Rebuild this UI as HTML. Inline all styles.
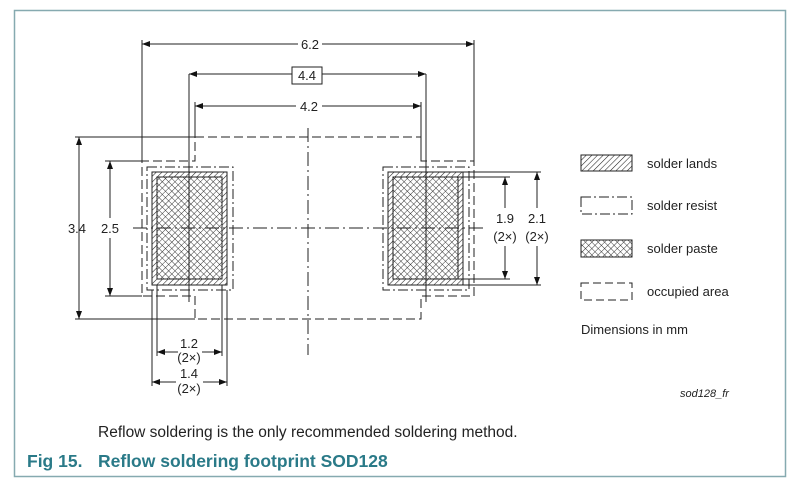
<!DOCTYPE html>
<html><head><meta charset="utf-8"><style>
html,body{margin:0;padding:0;background:#fff;}
svg{display:block;}
text{font-family:"Liberation Sans",Arial,sans-serif;fill:#222;}
</style></head><body>
<svg width="800" height="491" viewBox="0 0 800 491" xmlns="http://www.w3.org/2000/svg">
<defs>
<pattern id="hatch" patternUnits="userSpaceOnUse" width="4" height="4" patternTransform="rotate(45)">
<line x1="0" y1="0" x2="0" y2="4" stroke="#222" stroke-width="1.1"/>
</pattern>
<pattern id="cross" patternUnits="userSpaceOnUse" width="4.5" height="4.5" patternTransform="rotate(45)">
<line x1="0" y1="0" x2="0" y2="4.5" stroke="#222" stroke-width="0.9"/>
<line x1="0" y1="0" x2="4.5" y2="0" stroke="#222" stroke-width="0.9"/>
</pattern>
<marker id="a" markerWidth="8" markerHeight="6" refX="8" refY="3" orient="auto-start-reverse" markerUnits="userSpaceOnUse">
<path d="M0,0 L8,3 L0,6 Z" fill="#111"/>
</marker>
</defs>
<rect x="14.5" y="10.5" width="771" height="466" fill="#fff" stroke="#86aab0" stroke-width="1.5"/>

<g stroke="#222" stroke-width="1" fill="none">
<path d="M195,137 H421 V161 H474 V296 H421 V319 H195 V296 H142 V161 H195 Z" stroke-dasharray="9,4"/>
<rect x="147" y="167" width="86" height="123" stroke-dasharray="10,3,2,3"/>
<rect x="383" y="167" width="86" height="123" stroke-dasharray="10,3,2,3"/>
<rect x="152" y="172" width="75" height="113" fill="url(#hatch)"/>
<rect x="388" y="172" width="75" height="113" fill="url(#hatch)"/>
<rect x="157" y="177" width="65" height="102" fill="#fff"/>
<rect x="393" y="177" width="65" height="102" fill="#fff"/>
<rect x="157" y="177" width="65" height="102" fill="url(#cross)"/>
<rect x="393" y="177" width="65" height="102" fill="url(#cross)"/>
<line x1="133" y1="228" x2="485" y2="228" stroke-dasharray="14,4,2,4"/>
<line x1="308" y1="128" x2="308" y2="355" stroke-dasharray="14,4,2,4"/>
<line x1="189" y1="74" x2="189" y2="302"/>
<line x1="426" y1="74" x2="426" y2="302"/>
<line x1="142" y1="40" x2="142" y2="161"/>
<line x1="474" y1="40" x2="474" y2="161"/>
<line x1="195" y1="102" x2="195" y2="137"/>
<line x1="421" y1="102" x2="421" y2="161"/>
<line x1="75" y1="137" x2="195" y2="137"/>
<line x1="75" y1="319" x2="195" y2="319"/>
<line x1="105" y1="161" x2="142" y2="161"/>
<line x1="105" y1="296" x2="142" y2="296"/>
<line x1="157" y1="285" x2="157" y2="356"/>
<line x1="222" y1="285" x2="222" y2="356"/>
<line x1="152" y1="290" x2="152" y2="386"/>
<line x1="227" y1="290" x2="227" y2="386"/>
<line x1="458" y1="177" x2="510" y2="177"/>
<line x1="458" y1="279" x2="510" y2="279"/>
<line x1="463" y1="172" x2="541" y2="172"/>
<line x1="463" y1="285" x2="541" y2="285"/>
<line x1="142" y1="44" x2="298" y2="44" marker-start="url(#a)"/>
<line x1="322" y1="44" x2="474" y2="44" marker-end="url(#a)"/>
<line x1="189" y1="74" x2="292" y2="74" marker-start="url(#a)"/>
<line x1="322" y1="74" x2="426" y2="74" marker-end="url(#a)"/>
<line x1="195" y1="106" x2="296" y2="106" marker-start="url(#a)"/>
<line x1="322" y1="106" x2="421" y2="106" marker-end="url(#a)"/>
<line x1="79" y1="137" x2="79" y2="319" marker-start="url(#a)" marker-end="url(#a)"/>
<line x1="110" y1="161" x2="110" y2="218" marker-start="url(#a)"/>
<line x1="110" y1="238" x2="110" y2="296" marker-end="url(#a)"/>
<line x1="157" y1="352" x2="178" y2="352" marker-start="url(#a)"/>
<line x1="202" y1="352" x2="222" y2="352" marker-end="url(#a)"/>
<line x1="152" y1="382" x2="176" y2="382" marker-start="url(#a)"/>
<line x1="203" y1="382" x2="227" y2="382" marker-end="url(#a)"/>
<line x1="505" y1="177" x2="505" y2="208" marker-start="url(#a)"/>
<line x1="505" y1="246" x2="505" y2="279" marker-end="url(#a)"/>
<line x1="537" y1="172" x2="537" y2="208" marker-start="url(#a)"/>
<line x1="537" y1="246" x2="537" y2="285" marker-end="url(#a)"/>
<rect x="292" y="67" width="30" height="17"/>
<rect x="581" y="155" width="51" height="16" fill="url(#hatch)"/>
<rect x="581" y="197" width="51" height="17" stroke-dasharray="10,3,2,3"/>
<rect x="581" y="240" width="51" height="17" fill="url(#cross)"/>
<rect x="581" y="283" width="51" height="17" stroke-dasharray="8,4"/>
</g>

<g font-size="13" text-anchor="middle">
<rect x="298" y="37" width="24" height="14" fill="#fff"/>
<text x="310" y="49">6.2</text>
<text x="307" y="80">4.4</text>
<rect x="296" y="99" width="26" height="14" fill="#fff"/>
<text x="309" y="111">4.2</text>
<text x="77" y="233">3.4</text>
<text x="110" y="233">2.5</text>
<text x="189" y="348">1.2</text>
<text x="189" y="362">(2×)</text>
<text x="189" y="378">1.4</text>
<text x="189" y="393">(2×)</text>
<text x="505" y="223">1.9</text>
<text x="505" y="241">(2×)</text>
<text x="537" y="223">2.1</text>
<text x="537" y="241">(2×)</text>
</g>
<g font-size="13">
<text x="647" y="168">solder lands</text>
<text x="647" y="210">solder resist</text>
<text x="647" y="253">solder paste</text>
<text x="647" y="296">occupied area</text>
<text x="581" y="334">Dimensions in mm</text>
<text x="680" y="397" font-size="11" font-style="italic">sod128_fr</text>
<text x="98" y="437" font-size="15.5">Reflow soldering is the only recommended soldering method.</text>
</g>
<text x="27" y="467" font-size="17.5" font-weight="bold" style="fill:#2a7a88">Fig 15.</text>
<text x="98" y="467" font-size="17.5" font-weight="bold" style="fill:#2a7a88">Reflow soldering footprint SOD128</text>
</svg>
</body></html>
